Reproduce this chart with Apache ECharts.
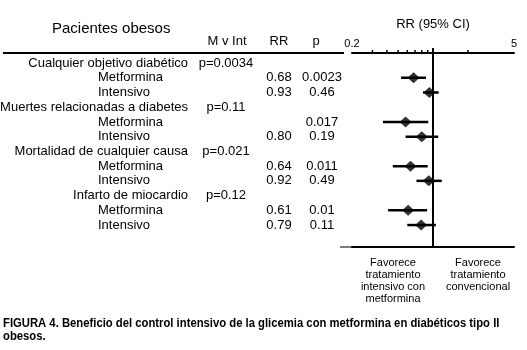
<!DOCTYPE html>
<html>
<head>
<meta charset="utf-8">
<script src="https://cdn.jsdelivr.net/npm/echarts@6/dist/echarts.min.js"></script>
<style>
html, body { margin: 0; padding: 0; background: #fff; }
#chart { width: 527px; height: 350px; }
</style>
</head>
<body>
<div id="chart"></div>
<script>
// rows of the forest plot, top to bottom
const rowLabels = [
  'Cualquier objetivo diabético', 'Metformina', 'Intensivo',
  'Muertes relacionadas a diabetes', 'Metformina', 'Intensivo',
  'Mortalidad de cualquier causa', 'Metformina', 'Intensivo',
  'Infarto de miocardio', 'Metformina', 'Intensivo'
]
const isGroupRow = [true, false, false, true, false, false, true, false, false, true, false, false]
const mvIntText = ['p=0.0034', '', '', 'p=0.11', '', '', 'p=0.021', '', '', 'p=0.12', '', '']
const rrText = ['', '0.68', '0.93', '', '', '0.80', '', '0.64', '0.92', '', '0.61', '0.79']
const pText = ['', '0.0023', '0.46', '', '0.017', '0.19', '', '0.011', '0.49', '', '0.01', '0.11']

// estimates
const rrValue = [null, 0.68, 0.93, null, 0.58, 0.80, null, 0.64, 0.92, null, 0.61, 0.79]
const ciLow = [null, 0.53, 0.82, null, 0.37, 0.58, null, 0.45, 0.72, null, 0.41, 0.60]
const ciHigh = [null, 0.87, 1.12, null, 0.91, 1.11, null, 0.90, 1.19, null, 0.89, 1.06]

const axisTicks = [0.3, 0.4, 0.5, 0.6, 0.7, 0.8, 0.9, 2]
const axisEnds = [0.2, 5]
const noEffect = 1

const favLeft = 'Favorece\ntratamiento\nintensivo con\nmetformina'
const favRight = 'Favorece\ntratamiento\nconvencional'
const caption1 = 'FIGURA 4. Beneficio del control intensivo de la glicemia con metformina en diabéticos tipo II'
const caption2 = 'obesos.'

const Y_MIN = -0.68
const Y_MAX = 12.49
const FONT = 'Liberation Sans, Arial, sans-serif'

const chart = echarts.init(document.getElementById('chart'), null, { renderer: 'canvas' })

const points = []
const bars = []
rrValue.forEach((v, i) => {
  if (v != null) points.push([v, i])
  if (ciLow[i] != null) bars.push([ciLow[i], ciHigh[i], i])
})

const txt = (text, x, y, align, size, weight) => ({
  type: 'text',
  style: {
    text, x, y,
    align: align || 'left',
    verticalAlign: 'middle',
    font: (weight || 'normal') + ' ' + (size || 13) + 'px ' + FONT,
    fill: '#000'
  }
})

// caption is a narrow bold face in the original, squeeze it a bit
const captionLine = (text, y) => ({
  type: 'text',
  x: 3,
  y,
  scaleX: 0.94,
  style: {
    text, x: 0, y: 0,
    align: 'left',
    verticalAlign: 'middle',
    font: 'bold 12px ' + FONT,
    fill: '#000'
  }
})

chart.setOption({
  animation: false,
  backgroundColor: '#fff',
  grid: { left: 352, right: 13, top: 53, height: 194, containLabel: false },
  xAxis: [
    {
      type: 'log',
      logBase: 10,
      min: 0.2,
      max: 5,
      position: 'top',
      name: 'RR (95% CI)',
      nameLocation: 'middle',
      nameGap: 22,
      nameTextStyle: { fontFamily: FONT, fontSize: 13, color: '#000' },
      axisLine: { onZero: false, lineStyle: { color: '#000', width: 2 } },
      axisTick: { show: false },
      splitLine: { show: false },
      axisLabel: {
        showMinLabel: true,
        showMaxLabel: true,
        margin: 4,
        fontFamily: FONT,
        fontSize: 11,
        color: '#000',
        formatter: (v) => {
          const hit = axisEnds.find((e) => Math.abs(e - v) < 1e-6)
          return hit != null ? String(hit) : ''
        }
      }
    },
    {
      type: 'log',
      logBase: 10,
      min: 0.2,
      max: 5,
      position: 'bottom',
      axisLine: { onZero: false, lineStyle: { color: '#000', width: 2 } },
      axisTick: { show: false },
      axisLabel: { show: false },
      splitLine: { show: false }
    }
  ],
  yAxis: {
    type: 'value',
    inverse: true,
    min: Y_MIN,
    max: Y_MAX,
    show: false,
    splitLine: { show: false }
  },
  graphic: [
    txt('Pacientes obesos', 52, 29, 'left', 15),
    txt('M v Int', 227, 41, 'center', 13),
    txt('RR', 279, 41, 'center', 13),
    txt('p', 316, 41, 'center', 13),
    { type: 'line', shape: { x1: 3, y1: 53, x2: 344, y2: 53 }, style: { stroke: '#000', lineWidth: 2 } },
    { type: 'line', shape: { x1: 340, y1: 247, x2: 352, y2: 247 }, style: { stroke: '#000', lineWidth: 1 } },
    {
      type: 'text',
      style: {
        text: favLeft, x: 393, y: 257, align: 'center', verticalAlign: 'top',
        font: '11px ' + FONT, lineHeight: 12, fill: '#000'
      }
    },
    {
      type: 'text',
      style: {
        text: favRight, x: 478, y: 257, align: 'center', verticalAlign: 'top',
        font: '11px ' + FONT, lineHeight: 12, fill: '#000'
      }
    },
    captionLine(caption1, 324),
    captionLine(caption2, 337)
  ],
  series: [
    {
      // table text, placed on the same row scale as the markers
      type: 'custom',
      clip: false,
      silent: true,
      data: rowLabels.map((_, i) => [1, i]),
      encode: { x: 0, y: 1 },
      renderItem: (params, api) => {
        const i = params.dataIndex
        const y = api.coord([1, i])[1]
        const children = [
          isGroupRow[i] ? txt(rowLabels[i], 188, y, 'right') : txt(rowLabels[i], 98, y, 'left')
        ]
        if (mvIntText[i]) children.push(txt(mvIntText[i], 226, y, 'center'))
        if (rrText[i]) children.push(txt(rrText[i], 279, y, 'center'))
        if (pText[i]) children.push(txt(pText[i], 322, y, 'center'))
        return { type: 'group', children }
      }
    },
    {
      // minor ticks on the RR axis
      type: 'custom',
      clip: false,
      silent: true,
      data: axisTicks.map((v) => [v, Y_MIN]),
      encode: { x: 0, y: 1 },
      renderItem: (params, api) => {
        const p = api.coord([api.value(0), api.value(1)])
        return {
          type: 'line',
          shape: { x1: p[0], y1: p[1] - 3, x2: p[0], y2: p[1] + 1 },
          style: { stroke: '#000', lineWidth: 1.5 }
        }
      }
    },
    {
      // line of no effect (RR = 1), a little above the axis like the original
      type: 'custom',
      clip: false,
      silent: true,
      data: [[noEffect, Y_MIN, Y_MAX]],
      encode: { x: 0, y: [1, 2] },
      renderItem: (params, api) => {
        const a = api.coord([api.value(0), api.value(1)])
        const b = api.coord([api.value(0), api.value(2)])
        return {
          type: 'line',
          shape: { x1: a[0], y1: a[1] - 5, x2: b[0], y2: b[1] },
          style: { stroke: '#000', lineWidth: 2 }
        }
      }
    },
    {
      // confidence intervals
      type: 'custom',
      clip: false,
      silent: true,
      data: bars,
      encode: { x: [0, 1], y: 2 },
      renderItem: (params, api) => {
        const a = api.coord([api.value(0), api.value(2)])
        const b = api.coord([api.value(1), api.value(2)])
        return {
          type: 'line',
          shape: { x1: a[0], y1: a[1], x2: b[0], y2: b[1] },
          style: { stroke: '#000', lineWidth: 2.5 }
        }
      }
    },
    {
      type: 'scatter',
      data: points,
      symbol: 'diamond',
      symbolSize: [12, 11],
      itemStyle: { color: '#000' },
      silent: true,
      z: 5
    }
  ]
})
</script>
</body>
</html>
